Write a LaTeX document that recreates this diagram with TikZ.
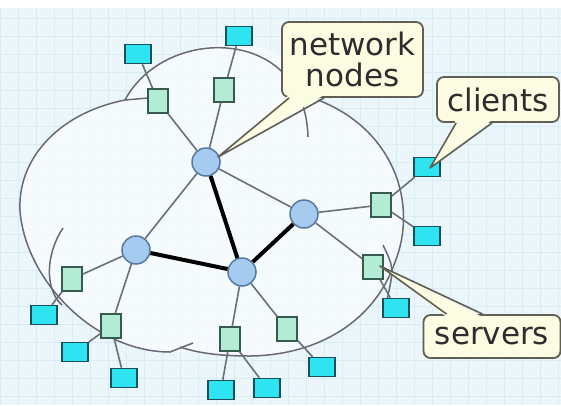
\documentclass[tikz,border=0pt]{standalone}
\usepackage{fontspec}
\setmainfont{DejaVu Sans}
\usepackage{tikz}
\usetikzlibrary{calc}
\definecolor{PageBlue}{RGB}{234,246,250}
\definecolor{GridBlue}{RGB}{215,236,243}
\definecolor{CloudWhite}{RGB}{248,251,253}
\definecolor{CloudLine}{RGB}{105,105,118}
\definecolor{HubFill}{RGB}{165,203,240}
\definecolor{HubLine}{RGB}{85,120,160}
\definecolor{SrvFill}{RGB}{178,236,212}
\definecolor{SrvLine}{RGB}{55,90,80}
\definecolor{CliFill}{RGB}{45,228,240}
\definecolor{CliLine}{RGB}{25,80,92}
\definecolor{LinkGray}{RGB}{105,112,122}
\definecolor{NoteFill}{RGB}{252,252,226}
\definecolor{NoteLine}{RGB}{95,95,85}
\definecolor{NoteText}{RGB}{45,45,45}

\begin{document}
\begin{tikzpicture}[x=1pt, y=-1pt,
	hub/.style={circle, minimum size=28pt, inner sep=0pt, fill=HubFill, draw=HubLine, line width=1.5pt},
	srv/.style={rectangle, minimum width=20pt, minimum height=24pt, inner sep=0pt, fill=SrvFill, draw=SrvLine, line width=1.5pt},
	cli/.style={rectangle, minimum width=26pt, minimum height=19pt, inner sep=0pt, fill=CliFill, draw=CliLine, line width=1.5pt},
	link/.style={draw=LinkGray, line width=1.6pt},
	trunk/.style={draw=black, line width=4pt},
	cloud/.style={draw=CloudLine, line width=1.5pt},
	note/.style={rectangle, rounded corners=7pt, fill=NoteFill, draw=NoteLine, line width=1.8pt, text=NoteText, align=center, inner sep=0pt, font=\fontsize{31}{31}\selectfont}]
	\useasboundingbox (0,0) rectangle (561,405);
	% backdrop with grid
	\fill[PageBlue] (0,0) rectangle (561,405);
	\draw[GridBlue, line width=0.8pt, step=18pt] (0,8) grid (561,405);
	\fill[white] (0,0) rectangle (561,8);
	\fill[CloudWhite, opacity=0.85] (125,100) .. controls (165,25) and (300,25) .. (318,100)
		.. controls (395,130) and (418,205) .. (395,262) .. controls (375,320) and (320,355) .. (250,356)
		.. controls (215,356) and (195,352) .. (170,352) .. controls (100,352) and (35,290) .. (22,225)
		.. controls (10,170) and (50,115) .. (125,100) -- cycle;
	% cloud outline
	\draw[cloud] (148,98) -- (125,100) .. controls (50,115) and (10,170) .. (22,225)
		.. controls (35,290) and (100,352) .. (170,352) -- (193,343);
	\draw[cloud] (63,228) .. controls (45,255) and (45,290) .. (62,305);
	\draw[cloud] (125,100) .. controls (165,25) and (305,25) .. (308,137);
	\draw[cloud] (318,100) .. controls (395,130) and (418,205) .. (395,262)
		.. controls (375,320) and (320,355) .. (250,356) .. controls (215,356) and (195,352) .. (180,347);
	\draw[cloud] (383,245) .. controls (394,268) .. (387,300);
	% network nodes
	\node[hub] (hA) at (206,162) {};
	\node[hub] (hB) at (304,214) {};
	\node[hub] (hC) at (136,250) {};
	\node[hub] (hD) at (242,272) {};
	% servers
	\node[srv] (s1) at (158,101) {};
	\node[srv] (s2) at (224,90) {};
	\node[srv] (s3) at (381,205) {};
	\node[srv] (s4) at (373,267) {};
	\node[srv] (s5) at (72,279) {};
	\node[srv] (s6) at (111,326) {};
	\node[srv] (s7) at (230,339) {};
	\node[srv] (s8) at (287,329) {};
	% clients
	\node[cli] (c1) at (138,54) {};
	\node[cli] (c2) at (239,36) {};
	\node[cli] (c3) at (427,236) {};
	\node[cli] (c4) at (396,308) {};
	\node[cli] (c5) at (44,315) {};
	\node[cli] (c6) at (75,352) {};
	\node[cli] (c7) at (124,378) {};
	\node[cli] (c8) at (221,390) {};
	\node[cli] (c9) at (267,388) {};
	\node[cli] (c10) at (322,367) {};
	\node[cli] (c11) at (427,167) {};
	% links
	\foreach \a/\b in {s1/hA, s2/hA, s3/hB, s4/hB, s5/hC, s6/hC, s7/hD, s8/hD,
		s1/c1, s2/c2, s3/c11, s3/c3, s4/c4, s5/c5, s6/c6, s6/c7, s7/c8, s7/c9, s8/c10,
		hA/hC, hA/hB}
		\path[link] (\a) -- (\b);
	\foreach \a/\b in {hA/hD, hC/hD, hD/hB}
		\path[trunk] (\a) -- (\b);
	% callouts
	\node[note, minimum width=141pt, minimum height=75pt] (lblnet) at (352.5,59.5) {network\\nodes};
	\node[note, minimum width=122pt, minimum height=45pt] (lblcli) at (498,99.5) {clients};
	\node[note, minimum width=137pt, minimum height=43pt] (lblsrv) at (492,336.5) {servers};
	\coordinate (tipnet) at (218,157);
	\coordinate (tipcli) at (430,168);
	\coordinate (tipsrv) at (380,266);
	\fill[NoteFill] ($(lblnet.south west)+(8,-3)$) -- (tipnet) -- ($(lblnet.south west)+(43,-3)$) -- cycle;
	\draw[NoteLine, line width=1.6pt, line join=round] ($(lblnet.south west)+(8,0)$) -- (tipnet) -- ($(lblnet.south west)+(43,0)$);
	\fill[NoteFill] ($(lblcli.south west)+(20,-3)$) -- (tipcli) -- ($(lblcli.south west)+(56,-3)$) -- cycle;
	\draw[NoteLine, line width=1.6pt, line join=round] ($(lblcli.south west)+(20,0)$) -- (tipcli) -- ($(lblcli.south west)+(56,0)$);
	\fill[NoteFill] ($(lblsrv.north west)+(24,3)$) -- (tipsrv) -- ($(lblsrv.north west)+(60,3)$) -- cycle;
	\draw[NoteLine, line width=1.6pt, line join=round] ($(lblsrv.north west)+(24,0)$) -- (tipsrv) -- ($(lblsrv.north west)+(60,0)$);
\end{tikzpicture}
\end{document}
